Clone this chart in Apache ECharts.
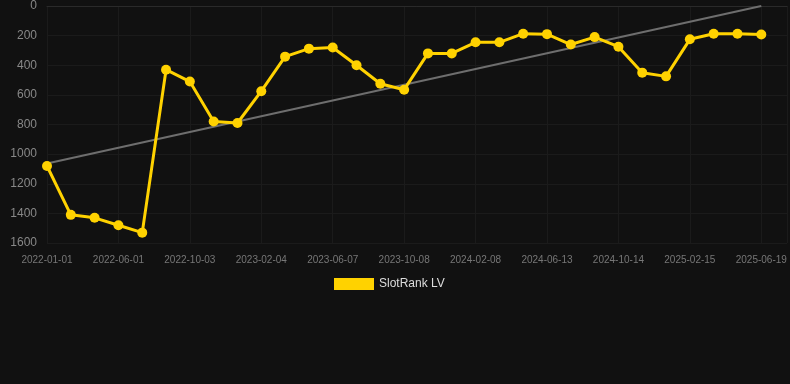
<!DOCTYPE html>
<html>
<head>
<meta charset="utf-8">
<script src="https://cdn.jsdelivr.net/npm/echarts@6/dist/echarts.min.js"></script>
<style>
html,body{margin:0;padding:0;background:#111111;}
#chart{width:790px;height:384px;}
</style>
</head>
<body>
<div id="chart"></div>
<script>
var dates = ['2022-01-01','2022-02-21','2022-04-12','2022-06-01','2022-07-12','2022-08-22','2022-10-03','2022-11-13','2022-12-24','2023-02-04','2023-03-17','2023-04-27','2023-06-07','2023-07-18','2023-08-28','2023-10-08','2023-11-18','2023-12-29','2024-02-08','2024-03-20','2024-05-02','2024-06-13','2024-07-24','2024-09-03','2024-10-14','2024-11-24','2025-01-04','2025-02-15','2025-03-28','2025-05-09','2025-06-19'];
var rankValues = [1080,1410,1430,1480,1530,430,510,780,790,575,342,288,280,400,525,565,320,320,245,245,187,190,260,210,275,450,475,225,187,187,192];
var trendValues = [1063,0];
var yTicks = [0,200,400,600,800,1000,1200,1400,1600];

var seriesData = rankValues.map(function(v,i){return [i,v];});
var trendData = [[0,trendValues[0]],[rankValues.length-1,trendValues[1]]];

var chart = echarts.init(document.getElementById('chart'));
chart.setOption({
  backgroundColor:'#111111',
  animation:false,
  grid:{left:47,right:0,top:6,bottom:141,containLabel:false},
  xAxis:{
    type:'value',min:0,max:31.08,interval:3,
    axisLine:{show:true,lineStyle:{color:'#2a2a2a'}},
    axisTick:{show:false},
    splitLine:{show:true,lineStyle:{color:'#1b1b1b'}},
    axisLabel:{color:'#777',fontSize:10,margin:12,fontFamily:'Liberation Sans, Arial',
      formatter:function(v){var i=Math.round(v);return (Math.abs(v-i)<1e-6 && dates[i])?dates[i]:'';}}
  },
  yAxis:{
    type:'value',inverse:true,min:yTicks[0],max:yTicks[yTicks.length-1],interval:200,
    axisLine:{show:false},axisTick:{show:false},
    splitLine:{show:true,lineStyle:{color:'#1b1b1b'}},
    axisLabel:{color:'#888',fontSize:12,margin:10,fontFamily:'Liberation Sans, Arial',
      formatter:function(v){return String(v);}}
  },
  legend:{
    show:true,top:273,left:329,itemWidth:40,itemHeight:12,
    textStyle:{color:'#ddd',fontSize:12,fontFamily:'Liberation Sans, Arial'},
    data:[{name:'SlotRank LV',icon:'rect'}]
  },
  series:[
    {name:'trend',type:'line',data:trendData,symbol:'none',silent:true,
      lineStyle:{color:'#6e6e6e',width:2},z:1},
    {name:'SlotRank LV',type:'line',data:seriesData,symbol:'circle',symbolSize:10,
      itemStyle:{color:'#FFD200'},lineStyle:{color:'#FFD200',width:3},z:2}
  ]
});
</script>
</body>
</html>
